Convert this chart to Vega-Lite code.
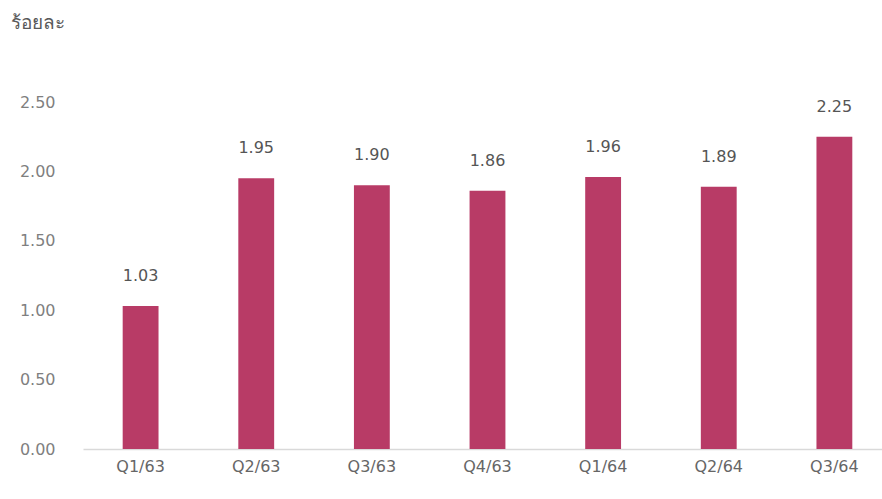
{
  "$schema": "https://vega.github.io/schema/vega-lite/v6.json",
  "width": 799,
  "height": 347,
  "autosize": "none",
  "padding": {"left": 83, "top": 102, "right": 0, "bottom": 50},
  "background": "white",
  "config": {"view": {"stroke": null}, "font": "DejaVu Sans"},
  "data": {"values": [
    {"q": "Q1/63", "v": 1.03},
    {"q": "Q2/63", "v": 1.95},
    {"q": "Q3/63", "v": 1.90},
    {"q": "Q4/63", "v": 1.86},
    {"q": "Q1/64", "v": 1.96},
    {"q": "Q2/64", "v": 1.89},
    {"q": "Q3/64", "v": 2.25}
  ]},
  "encoding": {
    "x": {"field": "q", "type": "nominal", "sort": null,
      "scale": {"paddingInner": 0.69, "paddingOuter": 0.3, "align": 0.572},
      "axis": {"title": null, "labelAngle": 0, "ticks": false, "domainColor": "#d9d9d9", "domainWidth": 1.5, "labelFontSize": 16, "labelColor": "#666666", "labelPadding": 9, "labelFont": "DejaVu Sans"}},
    "y": {"field": "v", "type": "quantitative",
      "scale": {"domain": [0, 2.5]},
      "axis": {"values": [0, 0.5, 1, 1.5, 2, 2.5], "format": ".2f", "grid": false, "domain": false, "ticks": false, "labelPadding": 28, "labelFontSize": 16, "labelColor": "#7f7f7f",
        "title": "ร้อยละ", "titleAngle": 0, "titleAlign": "left", "titleBaseline": "middle", "titleX": -73, "titleY": -80, "titleFontSize": 19, "titleFontWeight": "normal", "titleColor": "#595959"}}
  },
  "layer": [
    {"mark": {"type": "bar", "color": "#B83B66"}},
    {"mark": {"type": "text", "baseline": "middle", "dy": -30, "fontSize": 16, "color": "#555555"},
     "encoding": {"text": {"field": "v", "type": "quantitative", "format": ".2f"}}}
  ]
}
